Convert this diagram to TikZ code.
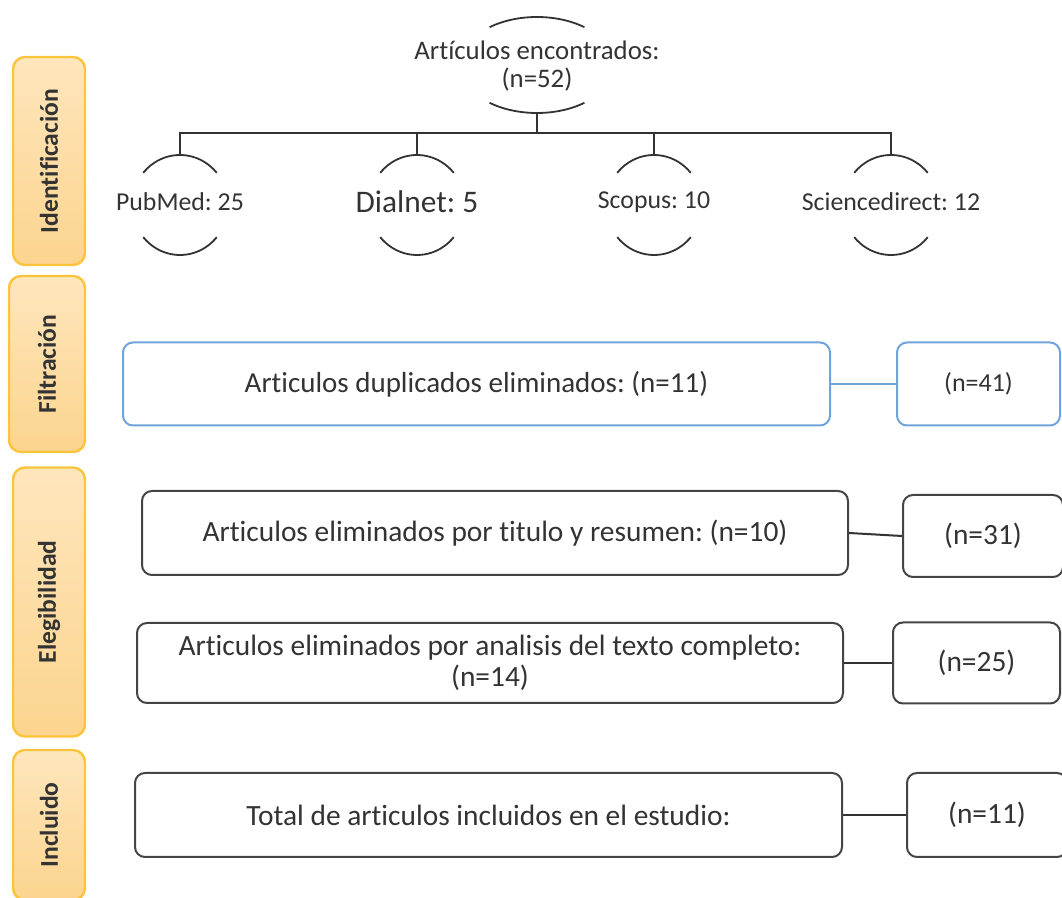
\documentclass[tikz,border=0pt]{standalone}
\usepackage{fontspec}
\setmainfont{Carlito}[Ligatures=NoCommon]
\usetikzlibrary{positioning}
\frenchspacing

\definecolor{inkgray}{HTML}{333333}
\definecolor{boxgray}{HTML}{444444}
\definecolor{filtblue}{HTML}{6FA3DA}
\definecolor{phaseedge}{HTML}{FCC43A}
\definecolor{phaselight}{HTML}{FEE6BC}
\definecolor{phasedark}{HTML}{FCD48E}

\begin{document}
\begin{tikzpicture}[x=0.5pt,y=-0.5pt,
  phase/.style={draw=phaseedge,line width=1.2pt,rounded corners=6pt,
    top color=phaselight,bottom color=phasedark,rotate=90,inner sep=0pt,
    text=inkgray,font=\fontsize{12.8}{14}\selectfont\bfseries},
  stepbox/.style={draw=boxgray,line width=1pt,rounded corners=5pt,inner sep=0pt,
    align=center,text=inkgray,font=\fontsize{14.7}{15.5}\selectfont},
  bluebox/.style={stepbox,draw=filtblue,font=\fontsize{14.5}{15.5}\selectfont},
  src/.style={text=inkgray,font=\fontsize{12.9}{14}\selectfont,align=center},
  arcline/.style={draw=inkgray,line width=0.9pt},
  link/.style={draw=inkgray,line width=1pt}]
\useasboundingbox (0,0) rectangle (1062,898);
\clip (0,0) rectangle (1062,898);

% phase labels on the left
\node[phase,minimum width=104pt,minimum height=36pt] (ident) at (49,161) {Identificación};
\node[phase,minimum width=88pt,minimum height=38pt] (filt) at (47,364) {Filtración};
\node[phase,minimum width=134.5pt,minimum height=36pt] (elig) at (49,602) {Elegibilidad};
\node[phase,minimum width=75pt,minimum height=36pt] (incl) at (49,825) {Incluido};

% found articles and the four databases
\node[src,font=\fontsize{13.4}{14}\selectfont] (found) at (537,66) {Artículos encontrados:\\(n=52)};
\draw[arcline] ([shift={(232:77 and 48)}]537,65) arc (232:308:77 and 48);
\draw[arcline] ([shift={(52:77 and 48)}]537,65) arc (52:128:77 and 48);

\node[src] (pubmed) at (180,202) {PubMed: 25};
\node[src,font=\fontsize{15.7}{17}\selectfont] (dialnet) at (417,202) {Dialnet: 5};
\node[src] (scopus) at (654,202) {Scopus: 10};
\node[src] (scidir) at (891,202) {Sciencedirect: 12};
\foreach \cx in {180,417,654,891} {
  \draw[arcline] ([shift={(220:48 and 50)}]\cx,205) arc (220:320:48 and 50);
  \draw[arcline] ([shift={(40:48 and 50)}]\cx,205) arc (40:140:48 and 50);
}

\coordinate (bus) at (537,133);
\draw[link] (537,113) -- (bus);
\draw[link] (180,155) |- (bus) -| (891,155);
\draw[link] (417,133) -- (417,155);
\draw[link] (654,133) -- (654,155);

% filtering
\node[bluebox,minimum width=353.5pt,minimum height=41.5pt] (dup) at (476.5,384) {Articulos duplicados eliminados: (n=11)};
\node[bluebox,font=\fontsize{13}{15}\selectfont,minimum width=81.5pt,minimum height=41.5pt] (n41) at (978.5,384) {(n=41)};
\draw[link,draw=filtblue] (dup.east) -- (n41.west);

% eligibility
\node[stepbox,minimum width=353pt,minimum height=42pt] (title) at (495,533) {Articulos eliminados por titulo y resumen: (n=10)};
\node[stepbox,minimum width=80pt,minimum height=41pt] (n31) at (983,536) {(n=31)};
\draw[link] (title.east) -- (n31.west);

\node[stepbox,minimum width=353pt,minimum height=40pt] (fulltext) at (490,663) {Articulos eliminados por analisis del texto completo:\\(n=14)};
\node[stepbox,minimum width=83.5pt,minimum height=40.5pt] (n25) at (976.5,663) {(n=25)};
\draw[link] (fulltext.east) -- (n25.west);

% included
\node[stepbox,minimum width=353.5pt,minimum height=42pt] (total) at (488.5,815) {Total de articulos incluidos en el estudio:};
\node[stepbox,minimum width=80pt,minimum height=42pt] (n11) at (987,815) {(n=11)};
\draw[link] (total.east) -- (n11.west);
\end{tikzpicture}
\end{document}
